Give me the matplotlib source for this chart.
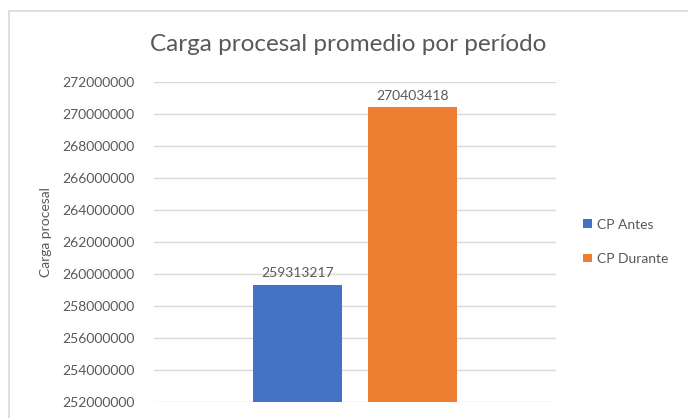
import matplotlib.pyplot as plt
from matplotlib.patches import Rectangle
from matplotlib.ticker import MultipleLocator, FuncFormatter

plt.rcParams["font.family"] = ["Lato", "DejaVu Sans"]

series = ["CP Antes", "CP Durante"]
values = [259313217, 270403418]
colors = ["#4472C4", "#ED7D31"]
offsets = [-0.143, 0.143]

TEXT = "#595959"

fig = plt.figure(figsize=(6.88, 4.18), dpi=100)
ax = fig.add_axes([0.2238, 0.0383, 0.5843, 0.7662])

for name, v, c, off in zip(series, values, colors, offsets):
    b = ax.bar(off, v, width=0.221, color=c, label=name, zorder=3)
    ax.bar_label(b, labels=[f"{v}"], padding=4, fontsize=10, color=TEXT)

ax.set_xlim(-0.5, 0.5)
ax.set_ylim(252000000, 272000000)
ax.yaxis.set_major_locator(MultipleLocator(2000000))
ax.yaxis.set_major_formatter(FuncFormatter(lambda v, p: f"{int(v)}"))
ax.grid(axis="y", color="#D9D9D9", linewidth=1, zorder=0)
ax.set_xticks([])
for s in ax.spines.values():
    s.set_visible(False)
ax.tick_params(axis="y", length=0, pad=14, labelsize=10, labelcolor=TEXT)

ax.set_ylabel("Carga procesal", fontsize=10, color=TEXT)
# position of the axis title in axes coords
ax.yaxis.set_label_coords(-0.254, 0.53)
fig.text(0.506, 0.893, "Carga procesal promedio por período", ha="center",
         va="center", fontsize=17.5, color=TEXT)

ax.legend(loc="center left", bbox_to_anchor=(1.037, 0.5), frameon=False,
          fontsize=10, labelcolor=TEXT, handlelength=0.6, handleheight=0.6,
          handletextpad=0.4, labelspacing=1.6)

fig.patches.append(Rectangle((9 / 688, -0.1), 1.0, 1 - 11 / 418 + 0.1,
                             transform=fig.transFigure, fill=False,
                             edgecolor="#D9D9D9", linewidth=1.2))

fig.savefig("out.png", dpi=100)
